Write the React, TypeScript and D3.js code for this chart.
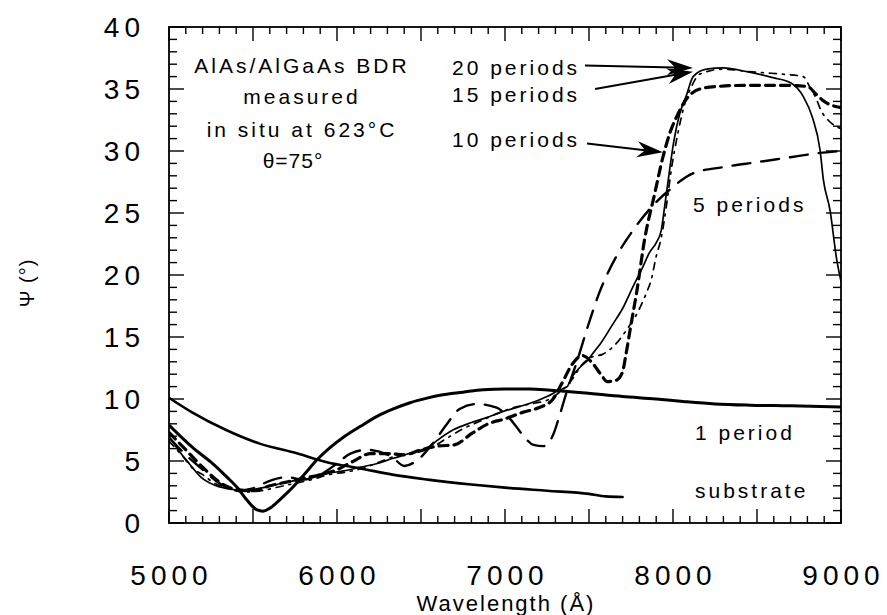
import React from "react";
import * as d3 from "d3";

// ---- Data (wavelength in Å, Psi in degrees) ----
const substrateX = [5000, 5140, 5340, 5540, 5740, 5940, 6140, 6330, 6540, 6800, 7000, 7250, 7500, 7600, 7700];
const substrateY = [10.1, 8.9, 7.5, 6.4, 5.7, 4.9, 4.4, 3.9, 3.5, 3.1, 2.85, 2.6, 2.35, 2.15, 2.1];

const p1X = [5000, 5140, 5250, 5345, 5410, 5464, 5524, 5560, 5601, 5670, 5738, 5810, 5881, 5960, 6036, 6140, 6238, 6335, 6435, 6530, 6613, 6750, 6870, 7000, 7150, 7270, 7460, 7700, 7900, 8060, 8250, 8460, 8700, 9000];
const p1Y = [7.9, 6.1, 4.9, 3.7, 2.8, 1.85, 1.05, 0.95, 1.2, 2.0, 2.9, 4.0, 5.1, 6.1, 6.9, 7.8, 8.6, 9.2, 9.7, 10.05, 10.3, 10.55, 10.75, 10.8, 10.8, 10.7, 10.5, 10.2, 10.0, 9.8, 9.6, 9.5, 9.45, 9.35];

const p5X = [5000, 5100, 5200, 5300, 5400, 5500, 5600, 5700, 5800, 5900, 6000, 6080, 6180, 6330, 6400, 6490, 6570, 6650, 6730, 6830, 6950, 7030, 7100, 7170, 7230, 7286, 7330, 7370, 7430, 7494, 7565, 7667, 7762, 7880, 7982, 8119, 8300, 8500, 8700, 8850, 9000];
const p5Y = [6.9, 5.5, 4.3, 3.2, 2.6, 2.8, 3.4, 3.7, 3.5, 3.9, 4.8, 5.6, 5.9, 5.3, 4.6, 5.2, 6.4, 7.9, 9.2, 9.6, 9.3, 8.4, 7.2, 6.3, 6.2, 7.1, 8.9, 10.7, 13.1, 15.9, 18.7, 21.6, 23.6, 25.6, 26.9, 28.2, 28.7, 29.1, 29.5, 29.8, 30.0];

const p10X = [5000, 5100, 5200, 5300, 5400, 5500, 5600, 5700, 5800, 5900, 6000, 6100, 6200, 6300, 6400, 6500, 6600, 6700, 6800, 6900, 7000, 7100, 7200, 7280, 7340, 7400, 7460, 7520, 7570, 7610, 7660, 7700, 7720, 7750, 7786, 7830, 7890, 7940, 7980, 8030, 8070, 8160, 8260, 8450, 8650, 8800, 8850, 8900, 9000];
const p10Y = [7.3, 5.9, 4.5, 3.3, 2.7, 2.6, 3.0, 3.3, 3.6, 3.9, 4.3, 5.0, 5.6, 5.6, 5.5, 5.9, 6.2, 6.3, 7.2, 8.0, 8.4, 8.9, 9.3, 9.9, 11.3, 12.8, 13.5, 12.9, 12.0, 11.4, 11.5, 12.2, 13.6, 16.0, 18.8, 22.8, 26.5, 29.5, 31.4, 33.0, 34.0, 35.0, 35.2, 35.3, 35.3, 35.2, 34.6, 34.0, 33.5];

const p15X = [5000, 5080, 5150, 5200, 5260, 5350, 5450, 5550, 5650, 5750, 5850, 5950, 6050, 6150, 6250, 6350, 6450, 6550, 6650, 6750, 6850, 6950, 7050, 7150, 7250, 7330, 7400, 7460, 7520, 7580, 7650, 7720, 7790, 7840, 7870, 7900, 7930, 7960, 7990, 8030, 8070, 8110, 8160, 8300, 8450, 8550, 8650, 8775, 8820, 8850, 8880, 8930, 9000];
const p15Y = [6.6, 5.4, 4.3, 3.9, 3.3, 2.8, 2.5, 2.6, 2.9, 3.2, 3.5, 3.9, 4.1, 4.4, 4.9, 5.4, 5.6, 6.0, 6.8, 7.6, 8.2, 8.8, 9.3, 9.6, 9.9, 10.6, 11.6, 12.8, 13.4, 13.6, 14.3, 15.5, 17.0, 18.5, 19.6, 21.5, 23.0, 25.5, 28.5, 31.5, 33.8, 35.2, 36.2, 36.6, 36.4, 36.3, 36.2, 36.0, 35.0, 34.3, 33.3, 32.4, 31.8];

const p20X = [5000, 5060, 5120, 5190, 5280, 5380, 5450, 5540, 5640, 5740, 5840, 5940, 6040, 6140, 6240, 6330, 6430, 6540, 6620, 6690, 6800, 6890, 6990, 7090, 7180, 7250, 7320, 7370, 7400, 7450, 7490, 7530, 7570, 7640, 7700, 7760, 7815, 7860, 7900, 7930, 7950, 7975, 8005, 8040, 8080, 8120, 8200, 8300, 8440, 8600, 8700, 8775, 8830, 8875, 8895, 8935, 8975, 9000];
const p20Y = [7.0, 5.8, 4.8, 3.7, 3.0, 2.7, 2.6, 2.8, 3.1, 3.4, 3.6, 4.0, 4.2, 4.5, 4.8, 5.2, 5.6, 6.1, 6.9, 7.5, 8.1, 8.5, 9.0, 9.4, 9.8, 10.2, 10.7, 11.0, 11.8, 12.6, 13.1, 13.8, 14.5, 16.0, 17.3, 19.0, 20.5, 21.8, 22.6, 23.6, 25.5, 28.0, 30.8, 33.0, 34.5, 36.0, 36.6, 36.7, 36.4, 35.9, 35.5, 34.4, 32.7, 30.1, 27.7, 25.2, 21.2, 19.5];

const xTickLabels = [5000, 6000, 7000, 8000, 9000];
const yTickLabels = [0, 5, 10, 15, 20, 25, 30, 35, 40];

// annotation arrows in data units: [fromλ, fromΨ, toλ, toΨ]
const arrow20 = [7476, 36.9, 8119, 36.7];
const arrow15 = [7536, 35.0, 8119, 36.4];
const arrow10 = [7488, 30.6, 7940, 29.9];

const W = 887;
const H = 615;
const M = { left: 169, right: 46, top: 27, bottom: 92 };
const FONT = "'Liberation Sans', Arial, Helvetica, sans-serif";

const zip = (xs: number[], ys: number[]) => xs.map((v, i) => [v, ys[i]] as [number, number]);

export default function App() {
  const x = d3.scaleLinear().domain([5000, 9000]).range([M.left, W - M.right]);
  const y = d3.scaleLinear().domain([0, 40]).range([H - M.bottom, M.top]);
  const line = d3
    .line<[number, number]>()
    .x((d) => x(d[0]))
    .y((d) => y(d[1]))
    .curve(d3.curveMonotoneX);

  const x0 = x(5000), x1 = x(9000), y0 = y(0), y1 = y(40);

  const xTicks = d3.range(5000, 9001, 100);
  const yTicks = d3.range(0, 41, 1);

  const series = [
    { d: zip(substrateX, substrateY), w: 2.6, dash: "" },
    { d: zip(p1X, p1Y), w: 3.0, dash: "" },
    { d: zip(p5X, p5Y), w: 2.4, dash: "18 11" },
    { d: zip(p10X, p10Y), w: 3.2, dash: "9 6" },
    { d: zip(p15X, p15Y), w: 1.7, dash: "7 6 2 6" },
    { d: zip(p20X, p20Y), w: 1.7, dash: "" },
  ];

  const arrow = (a: number[], key: string) => {
    const sx = x(a[0]), sy = y(a[1]), tx = x(a[2]), ty = y(a[3]);
    const dx = tx - sx, dy = ty - sy;
    const len = Math.hypot(dx, dy);
    const ux = dx / len, uy = dy / len;
    const px = -uy, py = ux;
    const hl = 26, hw = 8, notch = 8;
    const bx = tx - ux * hl, by = ty - uy * hl;
    const nx = tx - ux * (hl - notch), ny = ty - uy * (hl - notch);
    const pts = [
      [tx, ty],
      [bx + px * hw, by + py * hw],
      [nx, ny],
      [bx - px * hw, by - py * hw],
    ];
    return (
      <g key={key}>
        <line x1={sx} y1={sy} x2={nx} y2={ny} stroke="#000" strokeWidth={2} />
        <polygon points={pts.map((p) => p.join(",")).join(" ")} fill="#000" />
      </g>
    );
  };

  const tickLabelStyle = { fontFamily: FONT, fontSize: 28, letterSpacing: 5, fill: "#000" } as const;
  const annStyle = { fontFamily: FONT, fontSize: 21, letterSpacing: 3, fill: "#000" } as const;

  return (
    <svg width={W} height={H} style={{ position: "absolute", left: 0, top: 0, background: "#fff" }}>
      <rect x={0} y={0} width={W} height={H} fill="#fff" />
      <defs>
        <clipPath id="plot">
          <rect x={x0} y={y1} width={x1 - x0} height={y0 - y1} />
        </clipPath>
      </defs>

      {/* frame */}
      <rect x={x0} y={y1} width={x1 - x0} height={y0 - y1} fill="none" stroke="#000" strokeWidth={1.8} />

      {/* x ticks, bottom and top */}
      {xTicks.map((t) => {
        const len = t % 500 === 0 ? 14 : 7;
        return (
          <g key={"xt" + t} stroke="#000" strokeWidth={1.4}>
            <line x1={x(t)} x2={x(t)} y1={y0} y2={y0 - len} />
            <line x1={x(t)} x2={x(t)} y1={y1} y2={y1 + len} />
          </g>
        );
      })}
      {/* y ticks, left and right */}
      {yTicks.map((t) => {
        const len = t % 5 === 0 ? 15 : 8;
        return (
          <g key={"yt" + t} stroke="#000" strokeWidth={1.4}>
            <line x1={x0} x2={x0 + len} y1={y(t)} y2={y(t)} />
            <line x1={x1} x2={x1 - len} y1={y(t)} y2={y(t)} />
          </g>
        );
      })}

      {/* tick labels */}
      {xTickLabels.map((t) => (
        <text key={"xl" + t} x={x(t) + 2.5} y={y0 + 62} textAnchor="middle" style={tickLabelStyle}>
          {t}
        </text>
      ))}
      {yTickLabels.map((t) => (
        <text key={"yl" + t} x={x0 - 24} y={y(t)} dy="0.36em" textAnchor="end" style={tickLabelStyle}>
          {t}
        </text>
      ))}

      {/* axis titles */}
      <text x={506} y={611} textAnchor="middle" style={{ fontFamily: FONT, fontSize: 22, letterSpacing: 2, fill: "#000" }}>
        Wavelength (Å)
      </text>
      <text
        transform="translate(34,283) rotate(-90)"
        textAnchor="middle"
        style={{ fontFamily: FONT, fontSize: 20, letterSpacing: 1, fill: "#000" }}
      >
        Ψ (°)
      </text>

      {/* curves */}
      <g clipPath="url(#plot)">
        {series.map((s, i) => (
          <path
            key={"s" + i}
            d={line(s.d) || ""}
            fill="none"
            stroke="#000"
            strokeWidth={s.w}
            strokeDasharray={s.dash || undefined}
            strokeLinecap="round"
            strokeLinejoin="round"
          />
        ))}
      </g>

      {/* annotations */}
      <text x={302} y={73} textAnchor="middle" style={annStyle}>AlAs/AlGaAs BDR</text>
      <text x={302} y={104} textAnchor="middle" style={annStyle}>measured</text>
      <text x={302} y={137} textAnchor="middle" style={annStyle}>in situ at 623°C</text>
      <text x={293} y={168} textAnchor="middle" style={{ ...annStyle, letterSpacing: 1 }}>θ=75°</text>

      <text x={452} y={75} style={annStyle}>20 periods</text>
      <text x={452} y={102} style={annStyle}>15 periods</text>
      <text x={452} y={147} style={annStyle}>10 periods</text>
      <text x={693} y={212} style={annStyle}>5 periods</text>
      <text x={695} y={440} style={annStyle}>1 period</text>
      <text x={695} y={498} style={annStyle}>substrate</text>

      {arrow(arrow20, "a20")}
      {arrow(arrow15, "a15")}
      {arrow(arrow10, "a10")}
    </svg>
  );
}
